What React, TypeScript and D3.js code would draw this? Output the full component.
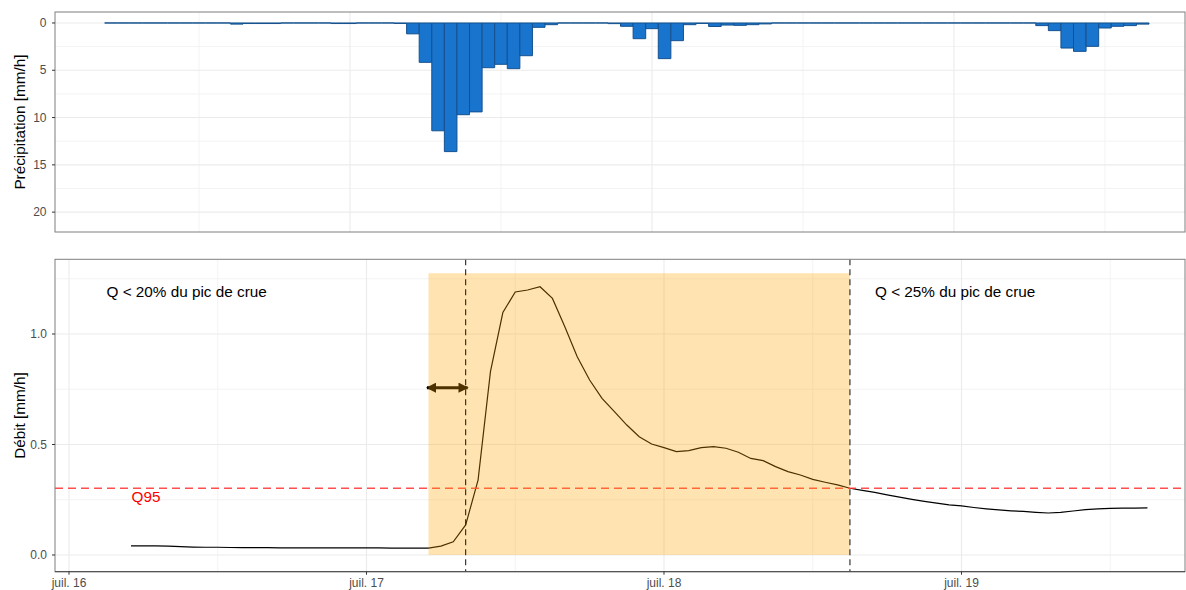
import React from "react";
import * as d3 from "d3";

// Hourly series from 16 July 05:00 to 19 July 15:00
const startHour = 5; // hours after 16 July 00:00
const precipitation = [
  0, 0, 0, 0, 0, 0, 0, 0, 0, 0, 0.12, 0.06, 0.06, 0.06, 0, 0, 0, 0, 0.06, 0.06,
  0, 0, 0, 0.05, 1.15, 4.16, 11.4, 13.6, 9.7, 9.4, 4.73, 4.37, 4.83, 3.46, 0.46, 0.18,
  0, 0, 0, 0, 0.07, 0.35, 1.66, 0.6, 3.77, 1.87, 0.18, 0.05, 0.37, 0.22, 0.25, 0.18, 0.1,
  0, 0, 0, 0, 0, 0, 0, 0, 0, 0, 0, 0, 0, 0, 0, 0, 0, 0, 0, 0, 0,
  0.28, 0.81, 2.65, 3.0, 2.47, 0.53, 0.35, 0.28, 0.12,
];
const discharge = [
  0.041, 0.041, 0.041, 0.04, 0.038, 0.036, 0.035, 0.035, 0.034, 0.033, 0.033, 0.033,
  0.032, 0.032, 0.032, 0.032, 0.032, 0.032, 0.032, 0.032, 0.032, 0.031, 0.031, 0.031,
  0.031, 0.04, 0.06, 0.136, 0.339, 0.83, 1.097, 1.19, 1.199, 1.214, 1.161, 1.033,
  0.897, 0.792, 0.709, 0.649, 0.588, 0.535, 0.502, 0.486, 0.468, 0.472, 0.486, 0.49,
  0.483, 0.465, 0.437, 0.427, 0.4, 0.377, 0.362, 0.342, 0.329, 0.317, 0.302, 0.292,
  0.283, 0.272, 0.262, 0.252, 0.243, 0.235, 0.227, 0.222, 0.215, 0.209, 0.204, 0.2,
  0.197, 0.193, 0.19, 0.193, 0.199, 0.205, 0.209, 0.211, 0.212, 0.212, 0.213,
];
const dayTicks = ["juil. 16", "juil. 17", "juil. 18", "juil. 19"];
const precipTicks = [0, 5, 10, 15, 20];
const precipMinor = [2.5, 7.5, 12.5, 17.5];
const dischargeTicks = [0, 0.5, 1.0];
const dischargeMinor = [0.25, 0.75, 1.25];
const floodWindow = [29, 63]; // hours after 16 July 00:00
const floodWindowTop = 1.275;
const startLine = 32;
const endLine = 63;
const q95 = 0.302;
const arrowY = 0.757;
const labelLeft = "Q < 20% du pic de crue";
const labelRight = "Q < 25% du pic de crue";

const day0 = new Date(2021, 6, 16, 0, 0, 0);
const atHour = (h: number) => new Date(day0.getTime() + h * 3600 * 1000);

const W = 1186;
const H = 590;
const PL = 55;
const PR = 1185;
const T1 = 12, B1 = 232;
const T2 = 259.3, B2 = 571.7;
const font = "'Liberation Sans', Arial, sans-serif";
const tickSize = 12;
const titleSize = 15.3;

export default function App() {
  const xTop = d3.scaleTime().domain([atHour(0.556), atHour(90.36)]).range([PL, PR]);
  const xBot = d3.scaleTime().domain([atHour(-1.129), atHour(90.03)]).range([PL, PR]);
  const yTop = d3.scaleLinear().domain([-1.16, 22.1]).range([T1, B1]);
  const yBot = d3.scaleLinear().domain([-0.0756, 1.338]).range([B2, T2]);

  const days = dayTicks.map((_, i) => atHour(24 * i));
  const halfDays = dayTicks.map((_, i) => atHour(24 * i + 12));

  const barW = xTop(atHour(1)) - xTop(atHour(0));
  const bars = precipitation.map((v, i) => ({ t: atHour(startHour + i), v }));
  const flow = discharge.map((v, i) => ({ t: atHour(startHour + i), v }));
  const line = d3
    .line<{ t: Date; v: number }>()
    .x((d) => xBot(d.t))
    .y((d) => yBot(d.v));

  const ax1 = xBot(atHour(floodWindow[0]));
  const ax2 = xBot(atHour(startLine));
  const ay = yBot(arrowY);

  const inTop = (x: number) => x >= PL && x <= PR;

  return (
    <svg width={W} height={H} style={{ position: "absolute", left: 0, top: 0 }}>
      <defs>
        <marker id="ah" viewBox="0 0 10 10" refX="9" refY="5" markerWidth="3.4" markerHeight="3.4" orient="auto-start-reverse">
          <path d="M0,0 L10,5 L0,10 z" fill="#000" />
        </marker>
        <clipPath id="clipTop"><rect x={PL} y={T1} width={PR - PL} height={B1 - T1} /></clipPath>
        <clipPath id="clipBot"><rect x={PL} y={T2} width={PR - PL} height={B2 - T2} /></clipPath>
      </defs>
      <rect x={0} y={0} width={W} height={H} fill="#fff" />

      {/* ---------- Top panel ---------- */}
      <g clipPath="url(#clipTop)">
        {precipMinor.map((v) => (
          <line key={"pm" + v} x1={PL} x2={PR} y1={yTop(v)} y2={yTop(v)} stroke="#F3F3F3" strokeWidth={1} />
        ))}
        {halfDays.map((d, i) => inTop(xTop(d)) && (
          <line key={"hm" + i} x1={xTop(d)} x2={xTop(d)} y1={T1} y2={B1} stroke="#F3F3F3" strokeWidth={1} />
        ))}
        {precipTicks.map((v) => (
          <line key={"pg" + v} x1={PL} x2={PR} y1={yTop(v)} y2={yTop(v)} stroke="#EBEBEB" strokeWidth={1.1} />
        ))}
        {days.map((d, i) => inTop(xTop(d)) && (
          <line key={"dg" + i} x1={xTop(d)} x2={xTop(d)} y1={T1} y2={B1} stroke="#EBEBEB" strokeWidth={1.1} />
        ))}
        {bars.map((b, i) => {
          const x0 = xTop(b.t) - barW / 2;
          const y0 = yTop(0);
          const h = Math.max(0, yTop(b.v) - y0);
          return (
            <path
              key={"b" + i}
              d={`M${x0},${y0}h${barW}v${h}h${-barW}Z`}
              fill="#1874CD"
              stroke="#15518F"
              strokeWidth={1}
            />
          );
        })}
      </g>
      <rect x={PL} y={T1} width={PR - PL} height={B1 - T1} fill="none" stroke="#7F7F7F" strokeWidth={1} />
      {precipTicks.map((v) => (
        <g key={"pt" + v}>
          <line x1={PL - 3} x2={PL} y1={yTop(v)} y2={yTop(v)} stroke="#333" strokeWidth={1} />
          <text x={PL - 8.5} y={yTop(v)} dy="0.35em" textAnchor="end" fontSize={tickSize} fill="#4D4D4D" fontFamily={font}>{v}</text>
        </g>
      ))}
      <text transform={`translate(24.5,${(T1 + B1) / 2}) rotate(-90)`} textAnchor="middle" fontSize={titleSize} fill="#000" fontFamily={font}>
        Précipitation [mm/h]
      </text>

      {/* ---------- Bottom panel ---------- */}
      <g clipPath="url(#clipBot)">
        {dischargeMinor.map((v) => (
          <line key={"dm" + v} x1={PL} x2={PR} y1={yBot(v)} y2={yBot(v)} stroke="#F3F3F3" strokeWidth={1} />
        ))}
        {halfDays.map((d, i) => (
          <line key={"bh" + i} x1={xBot(d)} x2={xBot(d)} y1={T2} y2={B2} stroke="#F3F3F3" strokeWidth={1} />
        ))}
        {dischargeTicks.map((v) => (
          <line key={"dg" + v} x1={PL} x2={PR} y1={yBot(v)} y2={yBot(v)} stroke="#EBEBEB" strokeWidth={1.1} />
        ))}
        {days.map((d, i) => (
          <line key={"bd" + i} x1={xBot(d)} x2={xBot(d)} y1={T2} y2={B2} stroke="#EBEBEB" strokeWidth={1.1} />
        ))}
        <path d={line(flow) || ""} fill="none" stroke="#000" strokeWidth={1.2} />
        <line x1={PL} x2={PR} y1={yBot(q95)} y2={yBot(q95)} stroke="#FF3030" strokeOpacity={0.85} strokeWidth={1.3} strokeDasharray="8,5" />
        <line x1={ax1 - 1.5} x2={ax2 + 2} y1={ay} y2={ay} stroke="#000" strokeWidth={3} markerStart="url(#ah)" markerEnd="url(#ah)" />
        <rect
          x={ax1}
          y={yBot(floodWindowTop)}
          width={xBot(atHour(floodWindow[1])) - ax1}
          height={yBot(0) - yBot(floodWindowTop)}
          fill="#FFA500"
          fillOpacity={0.3}
        />
        <line x1={xBot(atHour(startLine))} x2={xBot(atHour(startLine))} y1={T2} y2={B2} stroke="#222" strokeWidth={1.1} strokeDasharray="6,4" />
        <line x1={xBot(atHour(endLine))} x2={xBot(atHour(endLine))} y1={T2} y2={B2} stroke="#222" strokeWidth={1.1} strokeDasharray="6,4" />
        <text x={106.5} y={297} fontSize={titleSize} fill="#000" fontFamily={font}>{labelLeft}</text>
        <text x={875} y={297} fontSize={titleSize} fill="#000" fontFamily={font}>{labelRight}</text>
        <text x={131.5} y={502} fontSize={titleSize} fill="#FF0000" fontFamily={font}>Q95</text>
      </g>
      <rect x={PL} y={T2} width={PR - PL} height={B2 - T2} fill="none" stroke="#7F7F7F" strokeWidth={1} />
      <line x1={PL} x2={PR} y1={B2} y2={B2} stroke="#444" strokeWidth={1} />
      {dischargeTicks.map((v) => (
        <g key={"dt" + v}>
          <line x1={PL - 3} x2={PL} y1={yBot(v)} y2={yBot(v)} stroke="#333" strokeWidth={1} />
          <text x={PL - 8} y={yBot(v)} dy="0.35em" textAnchor="end" fontSize={tickSize} fill="#4D4D4D" fontFamily={font}>
            {d3.format(".1f")(v)}
          </text>
        </g>
      ))}
      {days.map((d, i) => (
        <g key={"xt" + i}>
          <line x1={xBot(d)} x2={xBot(d)} y1={B2} y2={B2 + 3} stroke="#333" strokeWidth={1} />
          <text x={xBot(d)} y={B2 + 15.5} textAnchor="middle" fontSize={tickSize} fill="#4D4D4D" fontFamily={font}>{dayTicks[i]}</text>
        </g>
      ))}
      <text transform={`translate(24.5,${(T2 + B2) / 2}) rotate(-90)`} textAnchor="middle" fontSize={titleSize} fill="#000" fontFamily={font}>
        Débit [mm/h]
      </text>
    </svg>
  );
}
